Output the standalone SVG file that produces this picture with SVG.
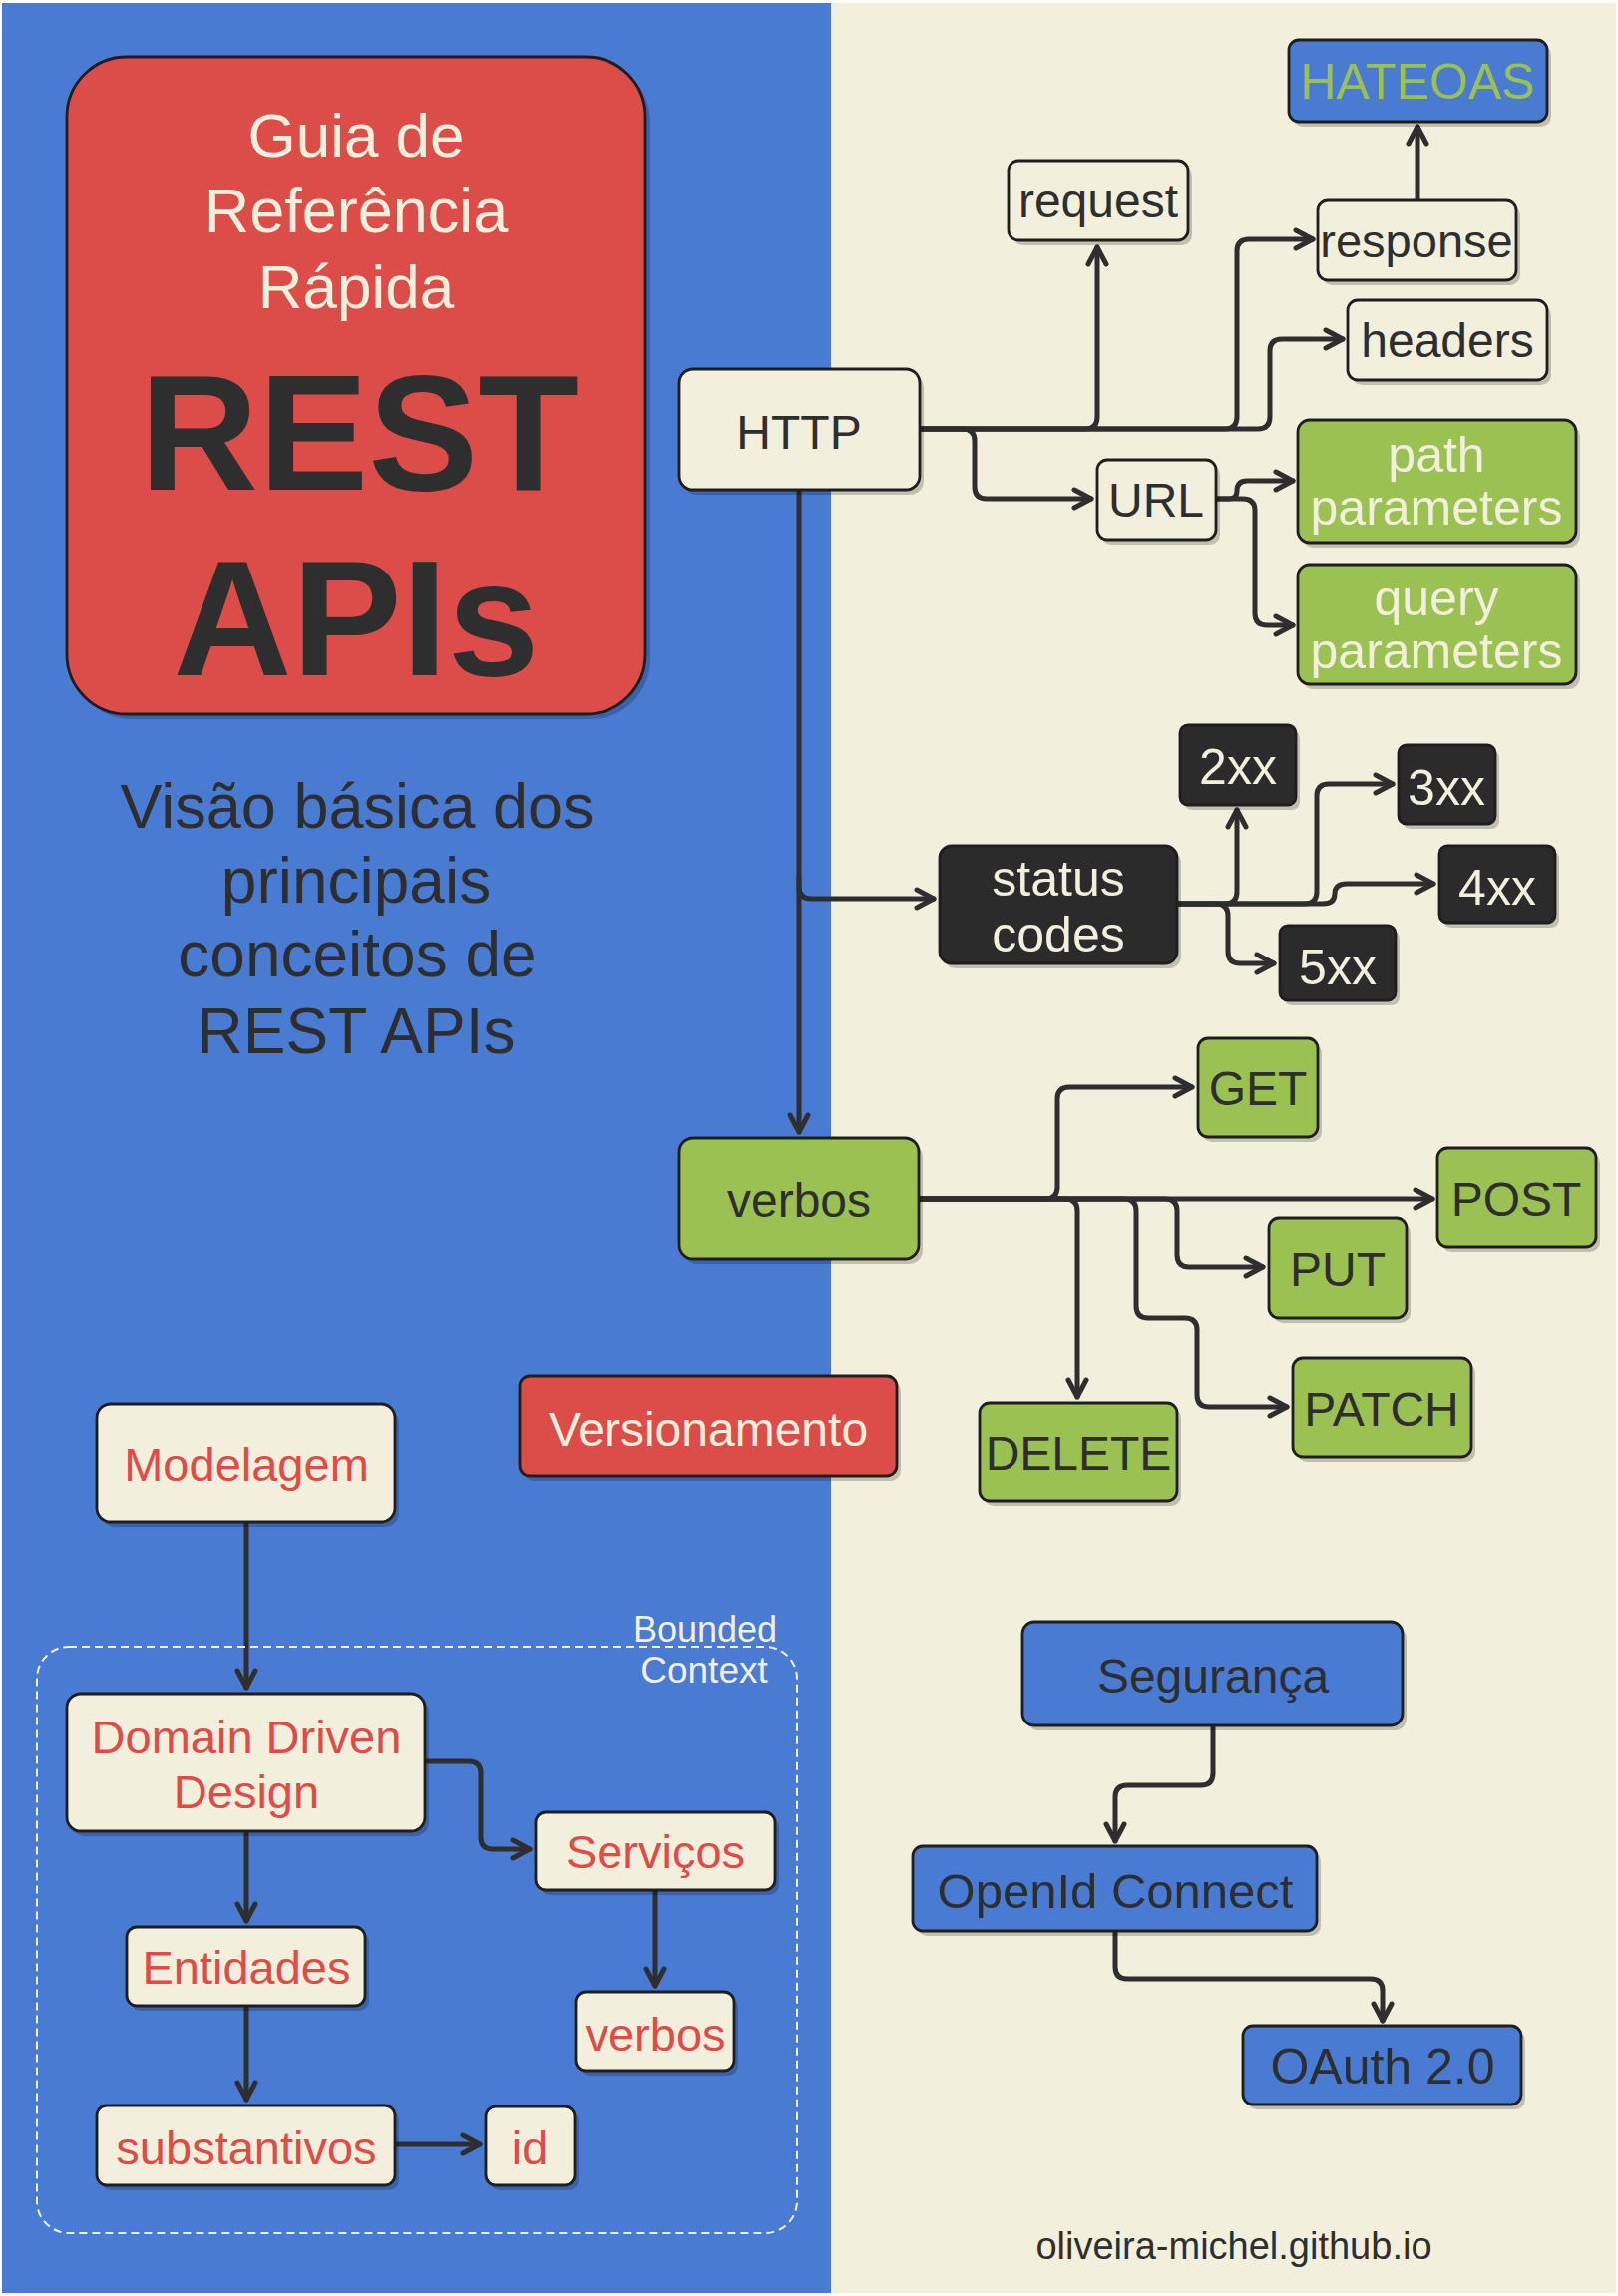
<svg xmlns="http://www.w3.org/2000/svg" width="1622" height="2302" viewBox="0 0 1622 2302">
<style>
text{font-family:"Liberation Sans",Arial,sans-serif;text-anchor:middle}
.box{stroke:#1e1e1e;stroke-width:2.8}
.sh{fill:#000;fill-opacity:0.2}
.cream{fill:#f2efdd}
.blue{fill:#4a7bd3}
.red{fill:#dc4d4a}
.green{fill:#9bc153}
.black{fill:#2b2b2b}
.t{font-size:48px;fill:#2e2e2e}
.tc{font-size:48px;fill:#f2efdd}
.tr{font-size:47px;fill:#e04a47}
.tg{font-size:50px;fill:#9bc153}
.conn{fill:none;stroke:#2e2e2e;stroke-width:5;stroke-linecap:round;stroke-linejoin:round;marker-end:url(#arr)}
</style>
<defs>
<marker id="arr" markerUnits="userSpaceOnUse" viewBox="0 0 24 24" markerWidth="24" markerHeight="24" refX="21" refY="12" orient="auto">
<path d="M4,3 L21,12 L4,21" fill="none" stroke="#2e2e2e" stroke-width="5" stroke-linecap="round" stroke-linejoin="round"/>
</marker>
</defs>
<rect x="0" y="0" width="1622" height="2302" fill="#ffffff"/>
<rect x="2" y="3" width="832" height="2296" fill="#4a7bd3"/>
<rect x="833" y="3" width="787" height="2296" fill="#f2efdd"/>

<g id="title">
<rect class="sh" x="72" y="62" width="580" height="659" rx="60"/>
<rect class="box red" x="67" y="57" width="580" height="659" rx="60"/>
<text x="357" y="157" style="font-size:62px;fill:#f2efdd">Guia de</text>
<text x="357" y="233" style="font-size:63px;fill:#f2efdd">Referência</text>
<text x="357" y="309" style="font-size:62px;fill:#f2efdd">Rápida</text>
<text x="360" y="491" style="font-size:165px;font-weight:bold;fill:#2e2e2e">REST</text>
<text x="357" y="677" style="font-size:165px;font-weight:bold;fill:#2e2e2e">APIs</text>
</g>

<g id="subtitle">
<text x="358" y="830" style="font-size:63px;fill:#2e2e2e">Visão básica dos</text>
<text x="357" y="905" style="font-size:64px;fill:#2e2e2e">principais</text>
<text x="358" y="979" style="font-size:64px;fill:#2e2e2e">conceitos de</text>
<text x="357" y="1056" style="font-size:64px;fill:#2e2e2e">REST APIs</text>
</g>

<g id="connectors">
<path class="conn" d="M922 430 H1088 Q1100 430 1100 418 V248"/>
<path class="conn" d="M922 430 H1228 Q1240 430 1240 418 V252 Q1240 240 1252 240 H1316"/>
<path class="conn" d="M922 430 H1261 Q1273 430 1273 418 V352 Q1273 340 1285 340 H1346"/>
<path class="conn" d="M922 430 H965 Q977 430 977 442 V488 Q977 500 989 500 H1094"/>
<path class="conn" d="M1421 201 V127"/>
<path class="conn" d="M1219 500 H1232 Q1240 500 1240 492 Q1240 482 1250 482 H1296"/>
<path class="conn" d="M1219 500 H1246 Q1258 500 1258 512 V615 Q1258 627 1270 627 H1296"/>
<path class="conn" d="M801 491 V1135"/>
<path class="conn" d="M801 880 V889 Q801 901 813 901 H936"/>
<path class="conn" d="M1180 906 H1228 Q1240 906 1240 894 V812"/>
<path class="conn" d="M1180 906 H1308 Q1320 906 1320 894 V798 Q1320 786 1332 786 H1396"/>
<path class="conn" d="M1180 906 H1326 Q1338 906 1338 896 Q1338 886 1350 886 H1437"/>
<path class="conn" d="M1180 906 H1219 Q1231 906 1231 918 V954 Q1231 966 1243 966 H1277"/>
<path class="conn" d="M921 1202 H1436"/>
<path class="conn" d="M921 1202 H1048 Q1060 1202 1060 1190 V1102 Q1060 1090 1072 1090 H1195"/>
<path class="conn" d="M921 1202 H1068 Q1080 1202 1080 1214 V1401"/>
<path class="conn" d="M921 1202 H1168 Q1180 1202 1180 1214 V1258 Q1180 1270 1192 1270 H1266"/>
<path class="conn" d="M921 1202 H1127 Q1139 1202 1139 1214 V1309 Q1139 1321 1151 1321 H1188 Q1200 1321 1200 1333 V1399 Q1200 1411 1212 1411 H1290"/>
<path class="conn" d="M247 1526 V1692"/>
<path class="conn" d="M247 1836 V1926"/>
<path class="conn" d="M247 2011 V2105"/>
<path class="conn" d="M396 2150 H481"/>
<path class="conn" d="M426 1766 H470 Q482 1766 482 1778 V1842 Q482 1854 494 1854 H531"/>
<path class="conn" d="M657 1895 V1991"/>
<path class="conn" d="M1216 1730 V1778 Q1216 1790 1204 1790 H1130 Q1118 1790 1118 1802 V1846"/>
<path class="conn" d="M1118 1936 V1972 Q1118 1984 1130 1984 H1374 Q1386 1984 1386 1996 V2026"/>
</g>

<g id="hateoas">
<rect class="sh" x="1296" y="45" width="259" height="82" rx="10"/>
<rect class="box blue" x="1292" y="40" width="259" height="82" rx="10"/>
<text class="tg" x="1421" y="99">HATEOAS</text>
</g>
<g id="request">
<rect class="sh" x="1015" y="166" width="180" height="80" rx="10"/>
<rect class="box cream" x="1011" y="161" width="180" height="80" rx="10"/>
<text class="t" x="1101" y="218">request</text>
</g>
<g id="response">
<rect class="sh" x="1325" y="206" width="199" height="80" rx="10"/>
<rect class="box cream" x="1321" y="201" width="199" height="80" rx="10"/>
<text class="t" x="1420" y="258" style="font-size:47px">response</text>
</g>
<g id="headers">
<rect class="sh" x="1355" y="306" width="200" height="80" rx="10"/>
<rect class="box cream" x="1351" y="301" width="200" height="80" rx="10"/>
<text class="t" x="1451" y="358">headers</text>
</g>
<g id="http">
<rect class="sh" x="685" y="375" width="241" height="121" rx="14"/>
<rect class="box cream" x="681" y="370" width="241" height="121" rx="14"/>
<text class="t" x="801" y="450">HTTP</text>
</g>
<g id="url">
<rect class="sh" x="1104" y="466" width="119" height="80" rx="10"/>
<rect class="box cream" x="1100" y="461" width="119" height="80" rx="10"/>
<text class="t" x="1159" y="518">URL</text>
</g>
<g id="path-parameters">
<rect class="sh" x="1305" y="426" width="279" height="123" rx="12"/>
<rect class="box green" x="1301" y="421" width="279" height="123" rx="12"/>
<text class="tc" x="1440" y="473" style="font-size:50px">path</text>
<text class="tc" x="1440" y="526" style="font-size:50px">parameters</text>
</g>
<g id="query-parameters">
<rect class="sh" x="1305" y="571" width="279" height="120" rx="12"/>
<rect class="box green" x="1301" y="566" width="279" height="120" rx="12"/>
<text class="tc" x="1440" y="617" style="font-size:50px">query</text>
<text class="tc" x="1440" y="670" style="font-size:50px">parameters</text>
</g>
<g id="status-codes">
<rect class="sh" x="946" y="853" width="238" height="118" rx="12"/>
<rect class="box black" x="942" y="848" width="238" height="118" rx="12"/>
<text class="tc" x="1061" y="898" style="font-size:50px">status</text>
<text class="tc" x="1061" y="954" style="font-size:50px">codes</text>
</g>
<g id="s2xx">
<rect class="sh" x="1187" y="732" width="116" height="80" rx="8"/>
<rect class="box black" x="1183" y="727" width="116" height="80" rx="8"/>
<text class="tc" x="1241" y="786" style="font-size:50px">2xx</text>
</g>
<g id="s3xx">
<rect class="sh" x="1406" y="752" width="97" height="79" rx="8"/>
<rect class="box black" x="1402" y="747" width="97" height="79" rx="8"/>
<text class="tc" x="1450" y="807" style="font-size:50px">3xx</text>
</g>
<g id="s4xx">
<rect class="sh" x="1447" y="853" width="116" height="77" rx="8"/>
<rect class="box black" x="1443" y="848" width="116" height="77" rx="8"/>
<text class="tc" x="1501" y="907" style="font-size:50px">4xx</text>
</g>
<g id="s5xx">
<rect class="sh" x="1287" y="933" width="116" height="75" rx="8"/>
<rect class="box black" x="1283" y="928" width="116" height="75" rx="8"/>
<text class="tc" x="1341" y="987" style="font-size:50px">5xx</text>
</g>
<g id="verbos">
<rect class="sh" x="685" y="1146" width="240" height="121" rx="14"/>
<rect class="box green" x="681" y="1141" width="240" height="121" rx="14"/>
<text class="t" x="801" y="1220">verbos</text>
</g>
<g id="get">
<rect class="sh" x="1205" y="1046" width="120" height="99" rx="10"/>
<rect class="box green" x="1201" y="1041" width="120" height="99" rx="10"/>
<text class="t" x="1261" y="1108">GET</text>
</g>
<g id="post">
<rect class="sh" x="1445" y="1156" width="159" height="99" rx="10"/>
<rect class="box green" x="1441" y="1151" width="159" height="99" rx="10"/>
<text class="t" x="1520" y="1219">POST</text>
</g>
<g id="put">
<rect class="sh" x="1276" y="1226" width="138" height="100" rx="10"/>
<rect class="box green" x="1272" y="1221" width="138" height="100" rx="10"/>
<text class="t" x="1341" y="1289">PUT</text>
</g>
<g id="patch">
<rect class="sh" x="1300" y="1367" width="179" height="99" rx="10"/>
<rect class="box green" x="1296" y="1362" width="179" height="99" rx="10"/>
<text class="t" x="1385" y="1430">PATCH</text>
</g>
<g id="delete">
<rect class="sh" x="986" y="1412" width="198" height="98" rx="10"/>
<rect class="box green" x="982" y="1407" width="198" height="98" rx="10"/>
<text class="t" x="1081" y="1474">DELETE</text>
</g>
<g id="versionamento">
<rect class="sh" x="525" y="1385" width="378" height="100" rx="10"/>
<rect class="box red" x="521" y="1380" width="378" height="100" rx="10"/>
<text class="tc" x="710" y="1450">Versionamento</text>
</g>

<g id="bounded-context">
<rect x="37" y="1651" width="762" height="588" rx="32" fill="none" stroke="#f2efdd" stroke-width="2" stroke-dasharray="8 5"/>
<text x="707" y="1646" style="font-size:36px;fill:#f2efdd">Bounded</text>
<text x="706" y="1687" style="font-size:37px;fill:#f2efdd">Context</text>
</g>
<g id="modelagem">
<rect class="sh" x="101" y="1413" width="299" height="118" rx="14"/>
<rect class="box cream" x="97" y="1408" width="299" height="118" rx="14"/>
<text class="tr" x="247" y="1485">Modelagem</text>
</g>
<g id="ddd">
<rect class="sh" x="71" y="1703" width="359" height="138" rx="14"/>
<rect class="box cream" x="67" y="1698" width="359" height="138" rx="14"/>
<text class="tr" x="247" y="1758">Domain Driven</text>
<text class="tr" x="247" y="1813">Design</text>
</g>
<g id="entidades">
<rect class="sh" x="131" y="1937" width="239" height="79" rx="10"/>
<rect class="box cream" x="127" y="1932" width="239" height="79" rx="10"/>
<text class="tr" x="247" y="1989">Entidades</text>
</g>
<g id="substantivos">
<rect class="sh" x="101" y="2116" width="299" height="80" rx="10"/>
<rect class="box cream" x="97" y="2111" width="299" height="80" rx="10"/>
<text class="tr" x="247" y="2170">substantivos</text>
</g>
<g id="id">
<rect class="sh" x="491" y="2117" width="89" height="79" rx="10"/>
<rect class="box cream" x="487" y="2112" width="89" height="79" rx="10"/>
<text class="tr" x="531" y="2170">id</text>
</g>
<g id="servicos">
<rect class="sh" x="541" y="1822" width="240" height="78" rx="10"/>
<rect class="box cream" x="537" y="1817" width="240" height="78" rx="10"/>
<text class="tr" x="657" y="1873">Serviços</text>
</g>
<g id="verbos-ddd">
<rect class="sh" x="581" y="2002" width="159" height="79" rx="10"/>
<rect class="box cream" x="577" y="1997" width="159" height="79" rx="10"/>
<text class="tr" x="657" y="2056">verbos</text>
</g>

<g id="seguranca">
<rect class="sh" x="1029" y="1631" width="381" height="104" rx="12"/>
<rect class="box blue" x="1025" y="1626" width="381" height="104" rx="12"/>
<text class="t" x="1216" y="1697">Segurança</text>
</g>
<g id="openid">
<rect class="sh" x="919" y="1856" width="405" height="85" rx="10"/>
<rect class="box blue" x="915" y="1851" width="405" height="85" rx="10"/>
<text class="t" x="1118" y="1913" style="font-size:49px">OpenId Connect</text>
</g>
<g id="oauth">
<rect class="sh" x="1250" y="2036" width="279" height="79" rx="10"/>
<rect class="box blue" x="1246" y="2031" width="279" height="79" rx="10"/>
<text class="t" x="1386" y="2089" style="font-size:50px">OAuth 2.0</text>
</g>

<g id="footer">
<text x="1237" y="2265" style="font-size:38px;fill:#2e2e2e">oliveira-michel.github.io</text>
</g>
</svg>
